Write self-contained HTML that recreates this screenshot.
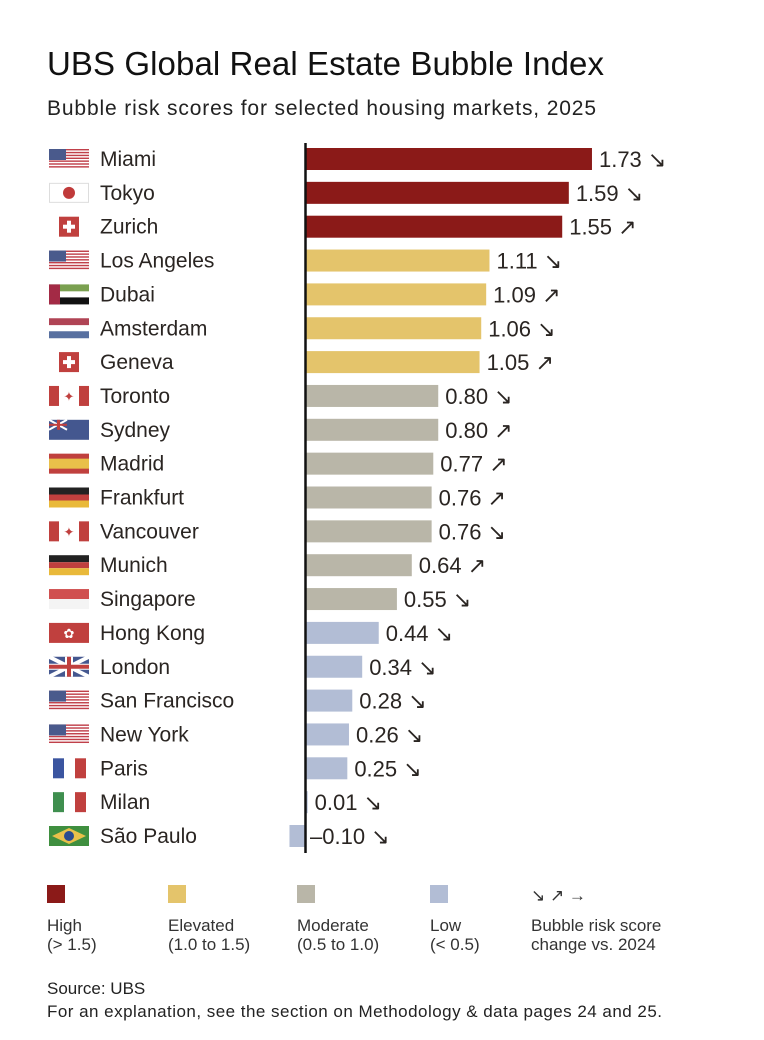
<!DOCTYPE html>
<html><head><meta charset="utf-8"><style>
body{margin:0;background:#fff;font-family:"Liberation Sans",sans-serif;color:#2a2522;}
#wrap{position:relative;width:764px;height:1040px;overflow:hidden;}
</style></head><body>
<div id="wrap">
<svg id="chart" width="764" height="1040">
<text x="47" y="75" font-size="33" textLength="557" fill="#111">UBS Global Real Estate Bubble Index</text>
<text x="47" y="115" font-size="21" textLength="549" fill="#222">Bubble risk scores for selected housing markets, 2025</text>
<g id="rows"></g>
<line x1="305.5" y1="143" x2="305.5" y2="853" stroke="#111" stroke-width="2.5"/>
<g id="legend" font-size="17" fill="#333">
<rect x="47" y="885" width="18" height="18" fill="#8b1a18"/>
<text x="47" y="931">High</text><text x="47" y="950">(&gt; 1.5)</text>
<rect x="168" y="885" width="18" height="18" fill="#e4c46b"/>
<text x="168" y="931">Elevated</text><text x="168" y="950">(1.0 to 1.5)</text>
<rect x="297" y="885" width="18" height="18" fill="#b9b6a8"/>
<text x="297" y="931">Moderate</text><text x="297" y="950">(0.5 to 1.0)</text>
<rect x="430" y="885" width="18" height="18" fill="#b2bdd5"/>
<text x="430" y="931">Low</text><text x="430" y="950">(&lt; 0.5)</text>
<text x="531" y="901" font-size="17">↘ ↗ →</text>
<text x="531" y="931">Bubble risk score</text><text x="531" y="950">change vs. 2024</text>
</g>
<text x="47" y="994" font-size="17" fill="#222">Source: UBS</text>
<text x="47" y="1017" font-size="17" textLength="615" fill="#222">For an explanation, see the section on Methodology &amp; data pages 24 and 25.</text>
</svg>
</div>
<script>
const cities=["Miami","Tokyo","Zurich","Los Angeles","Dubai","Amsterdam","Geneva","Toronto","Sydney","Madrid","Frankfurt","Vancouver","Munich","Singapore","Hong Kong","London","San Francisco","New York","Paris","Milan","São Paulo"];
const scores=[1.73,1.59,1.55,1.11,1.09,1.06,1.05,0.80,0.80,0.77,0.76,0.76,0.64,0.55,0.44,0.34,0.28,0.26,0.25,0.01,-0.10];
const changes=["↘","↘","↗","↘","↗","↘","↗","↘","↗","↗","↗","↘","↗","↘","↘","↘","↘","↘","↘","↘","↘"];
const flags=["us","jp","ch","us","ae","nl","ch","ca","au","es","de","ca","de","sg","hk","gb","us","us","fr","it","br"];
const NS="http://www.w3.org/2000/svg";
const x0=306, k=165.3, y0=159, step=33.85, bh=22;
const xs=v=>x0+v*k, ys=i=>y0+i*step;
function col(v){return v>=1.5?"#8b1a18":v>=1.0?"#e4c46b":v>=0.5?"#b9b6a8":"#b2bdd5";}
function el(t,a,p){const e=document.createElementNS(NS,t);for(const q in a)e.setAttribute(q,a[q]);p.appendChild(e);return e;}
function flag(g,c,y){
 const x=49,w=40,h=20,t=y-10;
 const r=(a,b,cw,ch,f)=>el("rect",{x:a,y:b,width:cw,height:ch,fill:f},g);
 if(c==="us"){for(let i=0;i<7;i++)r(x,t+i*20/7*1,w,20/14,"#c0404a");r(x,t,17,11,"#4a5a8c");}
 else if(c==="jp"){r(x,t,w,h,"#fff");el("rect",{x:x+.5,y:t+.5,width:w-1,height:h-1,fill:"none",stroke:"#ddd"},g);el("circle",{cx:x+20,cy:y,r:6,fill:"#c03a3a"},g);}
 else if(c==="ch"){r(x+10,t,20,20,"#c0403e");r(x+18,t+4,4,12,"#fff");r(x+14,t+8,12,4,"#fff");}
 else if(c==="ae"){r(x,t,w,7,"#7aa050");r(x,t+7,w,6,"#fff");r(x,t+13,w,7,"#111");r(x,t,11,h,"#a32a45");}
 else if(c==="nl"){r(x,t,w,7,"#b04455");r(x,t+7,w,6,"#fff");r(x,t+13,w,7,"#5870a0");}
 else if(c==="ca"){r(x,t,w,h,"#fff");r(x,t,10,h,"#c0403e");r(x+30,t,10,h,"#c0403e");el("text",{x:x+20,y:y+5,"font-size":13,fill:"#c0403e","text-anchor":"middle"},g).textContent="✦";}
 else if(c==="au"){r(x,t,w,h,"#44578f");el("path",{d:`M${x} ${t}L${x+18} ${t+10}M${x+18} ${t}L${x} ${t+10}`,stroke:"#fff","stroke-width":2},g);r(x+8,t,3,10,"#c0403e");r(x,t+4,18,2,"#c0403e");}
 else if(c==="es"){r(x,t,w,h,"#c0403e");r(x,t+5,w,10,"#e9c04a");}
 else if(c==="de"){r(x,t,w,7,"#222");r(x,t+7,w,6,"#c0403e");r(x,t+13,w,7,"#e9b93a");}
 else if(c==="sg"){r(x,t,w,10,"#d05050");r(x,t+10,w,10,"#f4f4f4");}
 else if(c==="hk"){r(x,t,w,h,"#c0403e");el("text",{x:x+20,y:y+5,"font-size":13,fill:"#fff","text-anchor":"middle"},g).textContent="✿";}
 else if(c==="gb"){r(x,t,w,h,"#44578f");el("path",{d:`M${x} ${t}L${x+w} ${t+h}M${x+w} ${t}L${x} ${t+h}`,stroke:"#fff","stroke-width":4},g);r(x+16,t,8,h,"#fff");r(x,t+7,w,6,"#fff");r(x+18,t,4,h,"#c0403e");r(x,t+8,w,4,"#c0403e");}
 else if(c==="fr"){r(x+4,t,11,h,"#3b55a0");r(x+26,t,11,h,"#c0403e");}
 else if(c==="it"){r(x+4,t,11,h,"#3f8f4f");r(x+26,t,11,h,"#c0403e");}
 else if(c==="br"){r(x,t,w,h,"#3f8f3f");el("polygon",{points:`${x+20},${t+2} ${x+37},${y} ${x+20},${t+18} ${x+3},${y}`,fill:"#e9c04a"},g);el("circle",{cx:x+20,cy:y,r:5,fill:"#2a4a8f"},g);}
}
const rows=document.getElementById("rows");
cities.forEach((c,i)=>{
 const y=ys(i),v=scores[i];
 const g=el("g",{},rows);
 
 
 const fg=el("g",{},g);
 
 
 flag(fg,flags[i],y);
 const lb=el("text",{x:100,y:y+7,"font-size":21,fill:"#2a2522"},g);lb.textContent=c;
 
 
 const a=Math.min(xs(0),xs(v)),b=Math.max(xs(0),xs(v));
 const bar=el("rect",{x:a,y:y-bh/2,width:Math.max(b-a,1.5),height:bh,fill:col(v)},g);
 
 
 const tx=Math.max(xs(v),xs(0))+ (v<0?4:7);
 const vt=el("text",{x:tx,y:y+8,"font-size":22,fill:"#2a2522"},g);
 vt.textContent=(v<0?"–":"")+Math.abs(v).toFixed(2)+" "+changes[i];
 
 
});
</script>
</body></html>
